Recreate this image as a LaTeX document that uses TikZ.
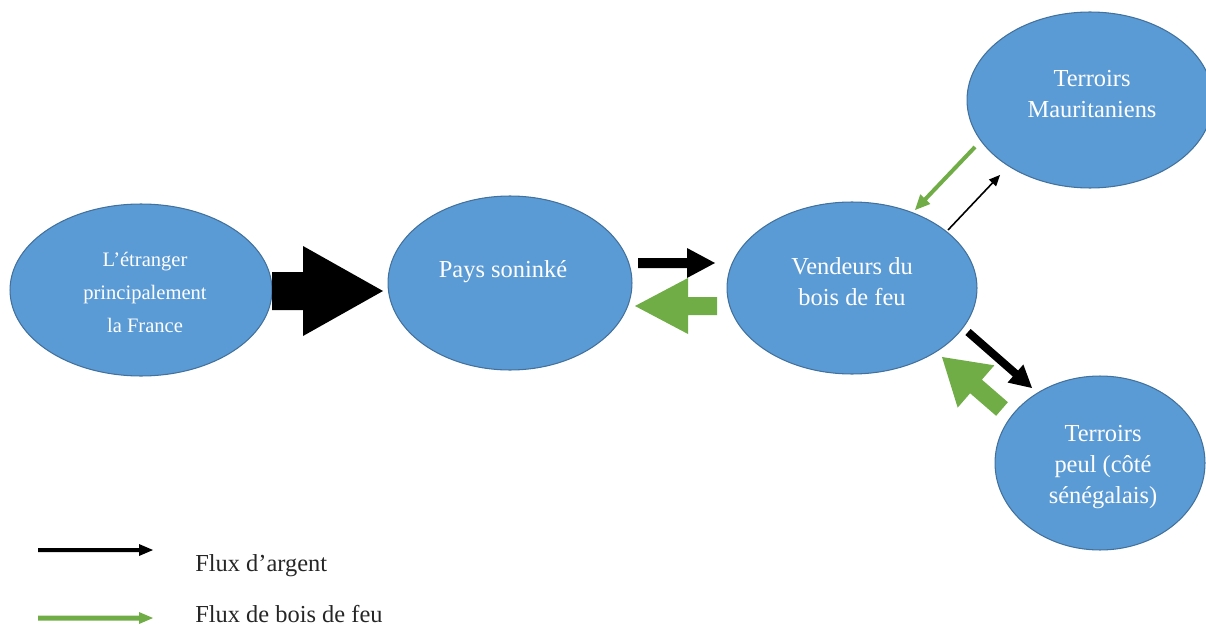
\documentclass[tikz,border=0pt]{standalone}
\usepackage{fontspec}
\setmainfont{Liberation Serif}
\usetikzlibrary{shapes.geometric,calc}

\definecolor{shapeblue}{HTML}{5B9BD5}
\definecolor{shapeedge}{HTML}{41719C}
\definecolor{woodgreen}{HTML}{70AD47}

% Block arrow: #1 style, #2 tail, #3 tip, #4 shaft half-width,
% #5 head half-width, #6 head length (lengths in drawing units of 0.02cm)
\newcommand\blockarrow[6]{%
  \coordinate (ba-base) at ($(#3)!{#6*0.02cm}!(#2)$);
  \fill[#1] ($(#2)!{#4*0.02cm}!90:(#3)$)
    -- ($(ba-base)!{#4*0.02cm}!90:(#3)$)
    -- ($(ba-base)!{#5*0.02cm}!90:(#3)$)
    -- (#3)
    -- ($(ba-base)!{#5*0.02cm}!-90:(#3)$)
    -- ($(ba-base)!{#4*0.02cm}!-90:(#3)$)
    -- ($(#2)!{#4*0.02cm}!-90:(#3)$) -- cycle;
}

\tikzset{
  bubble/.style={ellipse, draw=shapeedge, fill=shapeblue, line width=0.6pt, inner sep=0pt},
  bubtext/.style={text=white, align=center, inner sep=0pt,
    font=\fontsize{13.9}{17.6}\selectfont},
  smalltext/.style={text=white, align=center, inner sep=0pt,
    font=\fontsize{11.7}{18.8}\selectfont},
  legtext/.style={text=black!85, anchor=base west, inner sep=0pt,
    font=\fontsize{13.9}{16}\selectfont},
  money/.style={black},
  wood/.style={woodgreen},
}

\begin{document}
\begin{tikzpicture}[x=0.02cm, y=-0.02cm]
\useasboundingbox (0,0) rectangle (1206,628);

% places
\node[bubble, minimum width=5.24cm, minimum height=3.44cm] (etr)  at (141,290) {};
\node[bubble, minimum width=4.88cm, minimum height=3.48cm] (pays) at (510,283) {};
\node[bubble, minimum width=5.0cm,  minimum height=3.44cm] (vend) at (852,288) {};
\node[bubble, minimum width=4.92cm, minimum height=3.52cm] (maur) at (1090,100) {};
\node[bubble, minimum width=4.2cm,  minimum height=3.48cm] (peul) at (1100,463) {};

% labels
\node[smalltext] (etr-t)  at (145,292) {L’étranger\\principalement\\la France};
\node[bubtext]   (pays-t) at (503,272) {Pays soninké};
\node[bubtext]   (vend-t) at (852,282) {Vendeurs du\\bois de feu};
\node[bubtext]   (maur-t) at (1092,94) {Terroirs\\Mauritaniens};
\node[bubtext]   (peul-t) at (1103,467) {Terroirs\\peul (côté\\sénégalais)};

% arrow ends
\coordinate (a1s) at (272,291);  \coordinate (a1e) at (383,291);
\coordinate (a2s) at (638,263);  \coordinate (a2e) at (715,263);
\coordinate (a3s) at (717,306);  \coordinate (a3e) at (635,306);
\coordinate (a4s) at (975,147);  \coordinate (a4e) at (915,210);
\coordinate (a5s) at (948,230);  \coordinate (a5e) at (1000,175);
\coordinate (a6s) at (968,332);  \coordinate (a6e) at (1032,388);
\coordinate (a7s) at (1002,409); \coordinate (a7e) at (942,357);

% flows between places
\blockarrow{money}{a1s}{a1e}{19}{45}{80}
\blockarrow{money}{a2s}{a2e}{5}{15}{28}
\blockarrow{wood}{a3s}{a3e}{9}{28}{53}
\blockarrow{wood}{a4s}{a4e}{2}{7}{15}
\blockarrow{money}{a5s}{a5e}{0.8}{5}{11}
\blockarrow{money}{a6s}{a6e}{4}{12}{22}
\blockarrow{wood}{a7s}{a7e}{9}{28}{45}

% legend
\coordinate (l1s) at (38,550); \coordinate (l1e) at (153,550);
\coordinate (l2s) at (38,618); \coordinate (l2e) at (153,618);
\blockarrow{money}{l1s}{l1e}{2}{6}{14}
\blockarrow{wood}{l2s}{l2e}{2.5}{6}{14}
\node[legtext] (leg1) at (195,571) {Flux d’argent};
\node[legtext] (leg2) at (195,622) {Flux de bois de feu};
\end{tikzpicture}
\end{document}
